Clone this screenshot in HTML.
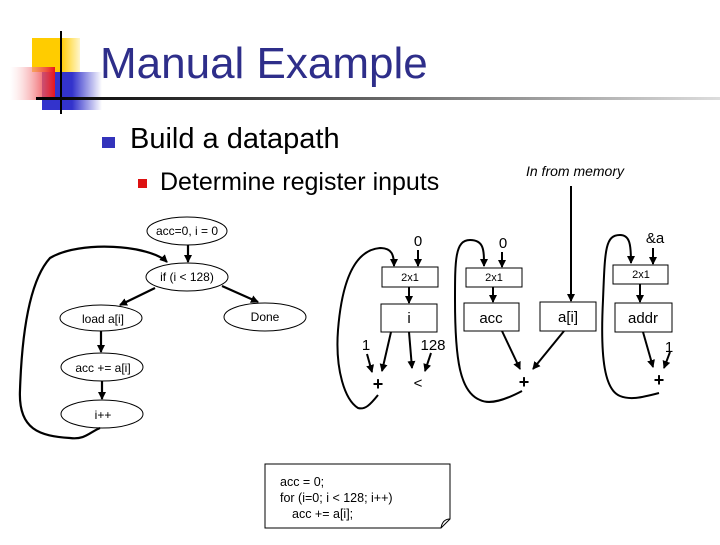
<!DOCTYPE html>
<html><head><meta charset="utf-8"><style>
body{margin:0;background:#fff;width:720px;height:540px;overflow:hidden;font-family:"Liberation Sans",sans-serif}
</style></head><body>
<svg width="720" height="540" xmlns="http://www.w3.org/2000/svg" font-family="Liberation Sans, sans-serif">
<defs>
<linearGradient id="hl" x1="0" x2="1"><stop offset="0" stop-color="#000"/><stop offset="0.5" stop-color="#666"/><stop offset="1" stop-color="#ddd"/></linearGradient>
<linearGradient id="rd" x1="0" x2="1"><stop offset="0" stop-color="#fff" stop-opacity="0.3"/><stop offset="1" stop-color="#e8141c"/></linearGradient>
<linearGradient id="bl" x1="0" x2="1"><stop offset="0.5" stop-color="#3333cc"/><stop offset="1" stop-color="#fff"/></linearGradient>
<linearGradient id="yl" x1="0" x2="1"><stop offset="0.6" stop-color="#ffcc00"/><stop offset="1" stop-color="#fff6cc"/></linearGradient>
<marker id="a" markerWidth="8" markerHeight="8" refX="7" refY="4" orient="auto" markerUnits="userSpaceOnUse"><path d="M0,0 L8,4 L0,8 z" fill="#000"/></marker>
</defs>
<rect x="32" y="38" width="48" height="34" fill="url(#yl)"/>
<rect x="42" y="72" width="60" height="38" fill="url(#bl)"/>
<rect x="10" y="67" width="45" height="33" fill="url(#rd)"/>
<line x1="61" y1="31" x2="61" y2="114" stroke="#000" stroke-width="2"/>
<rect x="36" y="97" width="684" height="3" fill="url(#hl)"/>
<text x="100" y="78" font-size="44" fill="#2e2e8a">Manual Example</text>
<rect x="102" y="137" width="13" height="11" fill="#3333bb"/>
<text x="130" y="148" font-size="29">Build a datapath</text>
<rect x="138" y="179" width="9" height="9" fill="#dd1111"/>
<text x="160" y="190" font-size="25">Determine register inputs</text>
<text x="575" y="176" font-size="14" font-style="italic" text-anchor="middle">In from memory</text>

<g fill="none" stroke="#000" stroke-width="1">
<ellipse cx="187" cy="231" rx="40" ry="14"/>
<ellipse cx="187" cy="277" rx="41" ry="14"/>
<ellipse cx="101" cy="318" rx="41" ry="13"/>
<ellipse cx="265" cy="317" rx="41" ry="14"/>
<ellipse cx="102" cy="367" rx="41" ry="14"/>
<ellipse cx="102" cy="414" rx="41" ry="14"/>
</g>
<g font-size="12" text-anchor="middle">
<text x="187" y="235">acc=0, i = 0</text>
<text x="187" y="281">if (i &lt; 128)</text>
<text x="103" y="323">load a[i]</text>
<text x="265" y="321">Done</text>
<text x="103" y="372">acc += a[i]</text>
<text x="103" y="419">i++</text>
</g>
<g fill="none" stroke="#000" stroke-width="2.2">
<line x1="188" y1="245" x2="188" y2="262" marker-end="url(#a)"/>
<line x1="155" y1="288" x2="120" y2="305" marker-end="url(#a)"/>
<line x1="222" y1="286" x2="258" y2="302" marker-end="url(#a)"/>
<line x1="101" y1="331" x2="101" y2="352" marker-end="url(#a)"/>
<line x1="102" y1="381" x2="102" y2="399" marker-end="url(#a)"/>
<path d="M100,428 C90,432 85,440 70,438 C40,436 18,430 20,390 C22,330 30,280 50,258 C80,240 150,245 167,262" marker-end="url(#a)"/>
</g>

<g fill="#fff" stroke="#000" stroke-width="1">
<rect x="382" y="267" width="56" height="20"/>
<rect x="381" y="304" width="56" height="28"/>
<rect x="466" y="268" width="56" height="19"/>
<rect x="464" y="303" width="55" height="28"/>
<rect x="540" y="302" width="56" height="29"/>
<rect x="613" y="265" width="55" height="19"/>
<rect x="615" y="303" width="57" height="29"/>
</g>
<g font-size="11" text-anchor="middle">
<text x="410" y="281">2x1</text><text x="494" y="281">2x1</text><text x="641" y="278">2x1</text>
</g>
<g font-size="15" text-anchor="middle">
<text x="409" y="323">i</text><text x="491" y="323">acc</text><text x="568" y="322">a[i]</text><text x="643" y="323">addr</text>
<text x="418" y="246">0</text><text x="503" y="248">0</text><text x="655" y="243">&amp;a</text>
<text x="366" y="350">1</text><text x="433" y="350">128</text><text x="669" y="352">1</text>
<text x="378" y="390" font-size="18" font-weight="bold">+</text>
<text x="418" y="388">&lt;</text>
<text x="524" y="388" font-size="18" font-weight="bold">+</text>
<text x="659" y="386" font-size="18" font-weight="bold">+</text>
</g>
<g fill="none" stroke="#000" stroke-width="2">
<line x1="418" y1="250" x2="418" y2="266" marker-end="url(#a)"/>
<line x1="409" y1="287" x2="409" y2="303" marker-end="url(#a)"/>
<line x1="502" y1="252" x2="502" y2="267" marker-end="url(#a)"/>
<line x1="493" y1="287" x2="493" y2="302" marker-end="url(#a)"/>
<line x1="653" y1="248" x2="653" y2="264" marker-end="url(#a)"/>
<line x1="640" y1="284" x2="640" y2="302" marker-end="url(#a)"/>
<line x1="571" y1="186" x2="571" y2="301" marker-end="url(#a)"/>
<line x1="367" y1="354" x2="372" y2="372" marker-end="url(#a)"/>
<line x1="391" y1="332" x2="382" y2="371" marker-end="url(#a)"/>
<line x1="409" y1="332" x2="412" y2="368" marker-end="url(#a)"/>
<line x1="431" y1="353" x2="425" y2="371" marker-end="url(#a)"/>
<line x1="502" y1="331" x2="520" y2="369" marker-end="url(#a)"/>
<line x1="564" y1="331" x2="533" y2="369" marker-end="url(#a)"/>
<line x1="643" y1="332" x2="653" y2="367" marker-end="url(#a)"/>
<line x1="670" y1="352" x2="664" y2="368" marker-end="url(#a)"/>
<path d="M378,395 C370,405 365,410 358,408 C345,400 335,370 338,330 C342,280 355,250 380,248 C392,248 394,255 394,266" marker-end="url(#a)"/>
<path d="M522,391 C505,400 490,405 480,400 C460,392 455,360 455,300 C455,260 455,240 470,240 C484,240 484,250 484,266" marker-end="url(#a)"/>
<path d="M659,393 C640,398 630,400 620,396 C605,390 600,360 603,300 C605,250 605,235 620,235 C630,235 631,245 631,263" marker-end="url(#a)"/>
</g>
<path d="M265,464 H450 V519 L441,528 H265 Z" fill="#fff" stroke="#000" stroke-width="1"/>
<path d="M441,528 C442,522 445,519 450,519" fill="none" stroke="#000"/>
<g font-size="12.5">
<text x="280" y="486">acc = 0;</text>
<text x="280" y="502">for (i=0; i &lt; 128; i++)</text>
<text x="292" y="518">acc += a[i];</text>
</g>
</svg>
</body></html>
